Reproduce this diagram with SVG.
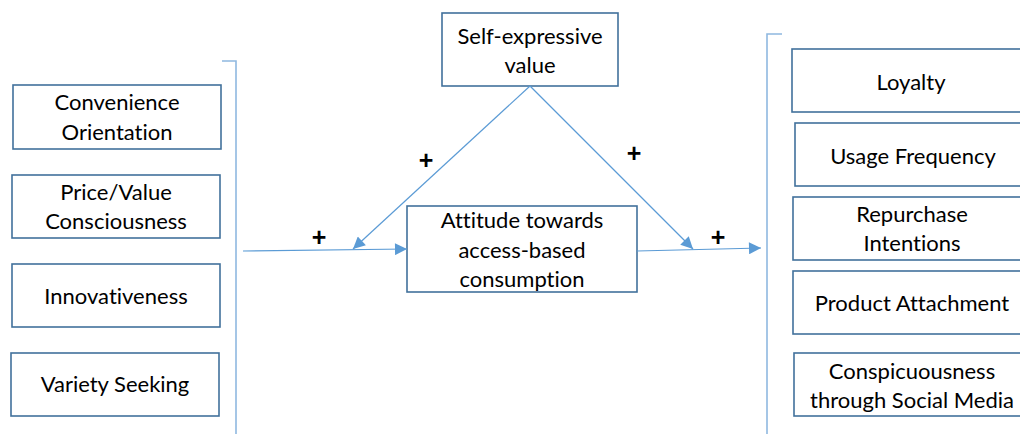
<svg xmlns="http://www.w3.org/2000/svg" width="1020" height="434" viewBox="0 0 1020 434">
<style>
.box{fill:#fff;stroke:#41719C;stroke-width:1.6}
.t{font-family:Lato,"Open Sans",sans-serif;font-size:22px;fill:#000;text-anchor:middle;font-variant-ligatures:none}
.c{fill:none;stroke:#5B9BD5;stroke-width:1.2}
.br{fill:none;stroke:#8FB8E0;stroke-width:1.6}
.p{font-family:"Liberation Sans",Arial,sans-serif;font-size:25px;font-weight:bold;fill:#000;text-anchor:middle}
</style>
<defs>
<marker id="ah" viewBox="0 0 10 10" refX="10" refY="5" markerWidth="14" markerHeight="12" markerUnits="userSpaceOnUse" orient="auto">
<path d="M0,0 L10,5 L0,10 z" fill="#5B9BD5"/>
</marker>
</defs>
<g id="n-convenience"><rect class="box" x="13" y="85" width="208" height="64"/><text class="t" x="117" y="110">Convenience</text><text class="t" x="117" y="140">Orientation</text></g>
<g id="n-price"><rect class="box" x="12" y="175" width="208" height="63"/><text class="t" x="116" y="200">Price/Value</text><text class="t" x="116" y="229">Consciousness</text></g>
<g id="n-innov"><rect class="box" x="12" y="264" width="208" height="63"/><text class="t" x="116" y="304">Innovativeness</text></g>
<g id="n-variety"><rect class="box" x="11" y="353" width="208" height="63"/><text class="t" x="115" y="392">Variety Seeking</text></g>
<g id="n-self"><rect class="box" x="442" y="13" width="176" height="73"/><text class="t" x="530" y="44">Self-expressive</text><text class="t" x="530" y="73">value</text></g>
<g id="n-attitude"><rect class="box" x="407" y="206" width="230" height="86"/><text class="t" x="522" y="228">Attitude towards</text><text class="t" x="522" y="258">access-based</text><text class="t" x="522" y="287">consumption</text></g>
<g id="n-loyalty"><rect class="box" x="792" y="49" width="240" height="63"/><text class="t" x="911" y="90">Loyalty</text></g>
<g id="n-usage"><rect class="box" x="795" y="123" width="240" height="63"/><text class="t" x="913" y="164">Usage Frequency</text></g>
<g id="n-repurchase"><rect class="box" x="793" y="197" width="240" height="63"/><text class="t" x="912" y="222">Repurchase</text><text class="t" x="912" y="251">Intentions</text></g>
<g id="n-attachment"><rect class="box" x="793" y="271" width="240" height="63"/><text class="t" x="912" y="311">Product Attachment</text></g>
<g id="n-conspic"><rect class="box" x="794" y="353" width="240" height="63"/><text class="t" x="912" y="379">Conspicuousness</text><text class="t" x="912" y="408">through Social Media</text></g>
<g id="brackets">
<path class="br" d="M222,61 H236 V440"/>
<path class="br" d="M782,34 H767 V440"/>
</g>
<g id="connectors">
<path class="c" d="M243,251 L407,249" marker-end="url(#ah)"/>
<path class="c" d="M637,251 L761,248" marker-end="url(#ah)"/>
<path class="c" d="M530,86 L353,249" marker-end="url(#ah)"/>
<path class="c" d="M530,86 L693,249" marker-end="url(#ah)"/>
</g>
<g id="labels">
<text class="p" x="319" y="246">+</text>
<text class="p" x="426" y="169">+</text>
<text class="p" x="634" y="162">+</text>
<text class="p" x="718" y="246">+</text>
</g>
</svg>
